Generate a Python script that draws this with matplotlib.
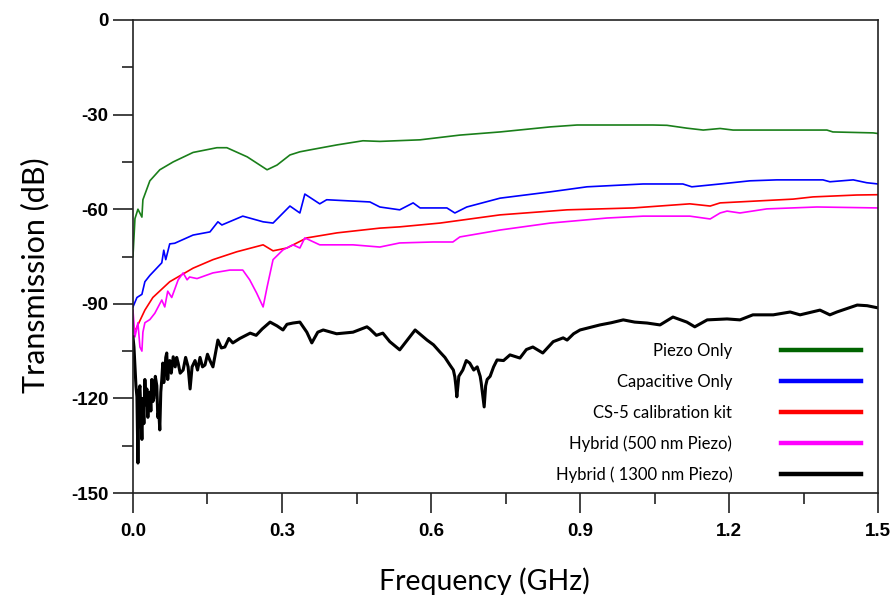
import matplotlib
matplotlib.use('Agg')
import matplotlib.pyplot as plt
from matplotlib.lines import Line2D
from matplotlib.ticker import MultipleLocator

plt.rcParams['axes.unicode_minus'] = False

# Piezo Only
piezo_f = [0.000, 0.004, 0.010, 0.018, 0.020, 0.034, 0.054, 0.081, 0.121, 0.169, 0.189,
           0.230, 0.270, 0.290, 0.316, 0.336, 0.356, 0.411, 0.463, 0.497, 0.578, 0.658,
           0.739, 0.840, 0.894, 1.047, 1.075, 1.115, 1.148, 1.182, 1.208, 1.397, 1.409,
           1.490, 1.500]
piezo_db = [-75, -63, -60, -62.5, -57, -51, -47.5, -45, -42, -40.5, -40.5,
            -43.4, -47.5, -46, -42.8, -41.8, -41.2, -39.6, -38.3, -38.5, -38, -36.5,
            -35.5, -33.9, -33.3, -33.3, -33.4, -34.3, -34.9, -34.4, -34.9, -34.9, -35.5,
            -35.8, -36]

# Capacitive Only
cap_f = [0.000, 0.008, 0.018, 0.024, 0.034, 0.058, 0.062, 0.066, 0.074, 0.084, 0.121,
         0.155, 0.171, 0.179, 0.221, 0.262, 0.282, 0.316, 0.336, 0.346, 0.376, 0.390,
         0.477, 0.497, 0.537, 0.564, 0.578, 0.632, 0.648, 0.672, 0.739, 0.840, 0.914,
         1.027, 1.107, 1.125, 1.182, 1.242, 1.296, 1.389, 1.403, 1.450, 1.477, 1.500]
cap_db = [-91, -88, -87, -83, -81, -77, -73, -76, -71, -70.8, -68.2,
          -67.2, -64, -65, -62.2, -64, -64.4, -59, -61.2, -55.2, -58.3, -57,
          -57.7, -59.3, -60.2, -58, -59.6, -59.6, -61.2, -59.3, -56.5, -54.5, -52.9,
          -52, -52, -52.9, -52, -51, -50.7, -50.7, -51.3, -50.7, -51.6, -52]

# CS-5 calibration kit
cal_f = [0.006, 0.012, 0.024, 0.040, 0.074, 0.121, 0.161, 0.209, 0.262, 0.282, 0.310,
         0.350, 0.411, 0.497, 0.537, 0.618, 0.739, 0.874, 1.007, 1.121, 1.162, 1.182,
         1.329, 1.369, 1.457, 1.500]
cal_db = [-98, -96, -92, -88, -83, -78.7, -76, -73.5, -71.3, -73.2, -72.3,
          -69.1, -67.5, -66, -65.6, -64.4, -61.8, -60.2, -59.6, -58.3, -59, -58,
          -56.8, -56.1, -55.5, -55.4]

# Hybrid (500 nm Piezo)
h500_f = [0.000, 0.004, 0.010, 0.014, 0.018, 0.020, 0.024, 0.034, 0.044, 0.058, 0.064,
          0.070, 0.078, 0.091, 0.101, 0.109, 0.114, 0.129, 0.161, 0.195, 0.221, 0.235,
          0.249, 0.262, 0.270, 0.282, 0.302, 0.322, 0.336, 0.346, 0.376, 0.443, 0.497,
          0.537, 0.604, 0.644, 0.658, 0.739, 0.840, 0.954, 1.027, 1.121, 1.162, 1.182,
          1.196, 1.222, 1.276, 1.377, 1.500]
h500_db = [-92, -100.5, -96, -103.7, -105, -99, -96, -95, -93, -88.8, -91,
           -86, -88, -82.4, -80.2, -82.4, -81.5, -82, -80.2, -79.3, -79.3, -82.4,
           -86.6, -91, -84.7, -76, -72.9, -71.3, -72.3, -69.1, -71.3, -71.3, -72,
           -70.7, -70.4, -70.4, -68.8, -66.6, -64.4, -62.8, -62.2, -62.2, -63.1, -61.2,
           -60.6, -61.2, -59.9, -59.3, -59.6]

# Hybrid ( 1300 nm Piezo)
h1300_f = [0.000, 0.002, 0.004, 0.006, 0.008, 0.010, 0.012, 0.014, 0.016, 0.018, 0.020,
           0.022, 0.024, 0.026, 0.028, 0.030, 0.032, 0.034, 0.036, 0.038, 0.040, 0.042,
           0.045, 0.048, 0.050, 0.052, 0.054, 0.056, 0.058, 0.060, 0.062, 0.064, 0.066,
           0.068, 0.070, 0.072, 0.074, 0.077, 0.081, 0.085, 0.088, 0.091, 0.095, 0.101,
           0.106, 0.111, 0.115, 0.119, 0.125, 0.130, 0.135, 0.140, 0.145, 0.150, 0.155,
           0.161, 0.167, 0.171, 0.178, 0.185, 0.193, 0.201, 0.215, 0.236, 0.248, 0.260,
           0.276, 0.290, 0.302, 0.310, 0.322, 0.336, 0.350, 0.360, 0.372, 0.383, 0.410,
           0.443, 0.471, 0.477, 0.490, 0.503, 0.517, 0.537, 0.568, 0.592, 0.605, 0.618,
           0.628, 0.638, 0.645, 0.648, 0.650, 0.652, 0.656, 0.664, 0.671, 0.678, 0.686,
           0.693, 0.699, 0.701, 0.704, 0.707, 0.710, 0.713, 0.719, 0.726, 0.733, 0.746,
           0.759, 0.779, 0.792, 0.805, 0.825, 0.846, 0.866, 0.874, 0.887, 0.900, 0.920,
           0.940, 0.963, 0.987, 1.010, 1.035, 1.061, 1.087, 1.115, 1.131, 1.156, 1.196,
           1.222, 1.248, 1.289, 1.323, 1.343, 1.383, 1.403, 1.417, 1.458, 1.478, 1.500]
h1300_db = [-100.5, -103.7, -110, -116, -119.5, -140.5, -118, -116, -125, -133, -120,
            -128, -114, -122, -117, -126, -119, -118, -124, -114, -121, -120,
            -113, -116, -126, -124, -130, -118, -114, -108.8, -115, -112, -107,
            -105.6, -114, -109, -108, -112, -106.8, -110, -107, -108.8, -112, -111,
            -107, -110, -117, -110, -108, -111, -107, -110, -109.4, -106, -108,
            -110, -105, -101.5, -104, -103.7, -101, -102.4, -101, -99.3, -100, -98,
            -95.8, -97, -98.3, -96.5, -96.1, -95.8, -99, -102.4, -99, -98.3, -99.5,
            -99, -97.3, -98, -100, -99.3, -102, -104.6, -98.3, -101.5, -103, -105.3,
            -107, -109.4, -111, -113.2, -116, -119.5, -113, -111, -108, -108.8, -111,
            -110, -113, -115, -119, -122.7, -116, -114, -113, -110, -107.8, -108,
            -106.2, -107.2, -104.5, -103.7, -105.6, -102, -100.8, -101.5, -99.5, -98.3, -97.5,
            -96.7, -96, -95.1, -95.8, -96.1, -96.7, -94.2, -95.8, -97.3, -95.1, -94.8,
            -95.1, -93.5, -93.5, -92.6, -93.5, -92, -93.5, -92.6, -90.4, -90.6, -91.3]

labels = ['Piezo Only', 'Capacitive Only', 'CS-5 calibration kit',
          'Hybrid (500 nm Piezo)', 'Hybrid ( 1300 nm Piezo)']
colors = ['#1a7f1a', '#0000ff', '#ff0000', '#ff00ff', '#000000']
legend_colors = ['#006400', '#0000ff', '#ff0000', '#ff00ff', '#000000']

fig = plt.figure(figsize=(8.96, 5.97), dpi=100)
ax = fig.add_axes([0.1484, 0.1742, 0.8316, 0.7923])

ax.plot(piezo_f, piezo_db, color=colors[0], lw=1.2)
ax.plot(cap_f, cap_db, color=colors[1], lw=1.2)
ax.plot(cal_f, cal_db, color=colors[2], lw=1.2)
ax.plot(h500_f, h500_db, color=colors[3], lw=1.2)
ax.plot(h1300_f, h1300_db, color=colors[4], lw=2.2)

ax.set_xlim(0, 1.5)
ax.set_ylim(-150, 0)
ax.xaxis.set_major_locator(MultipleLocator(0.3))
ax.xaxis.set_minor_locator(MultipleLocator(0.15))
ax.yaxis.set_major_locator(MultipleLocator(30))
ax.yaxis.set_minor_locator(MultipleLocator(15))
ax.set_xticklabels([f'{v:.1f}' for v in ax.get_xticks()])

for s in ax.spines.values():
    s.set_linewidth(1.2)
    s.set_color('#222222')
ax.tick_params(which='major', direction='out', length=14.5, width=1.2, color='#222222')
ax.tick_params(which='minor', direction='out', length=8, width=1.2, color='#222222')
ax.tick_params(axis='x', which='major', pad=7)
ax.tick_params(axis='y', which='major', pad=3)
for t in ax.get_xticklabels() + ax.get_yticklabels():
    t.set_fontfamily('Liberation Sans')
    t.set_fontweight('bold')
    t.set_fontsize(13.5)

ax.set_xlabel('Frequency (GHz)', fontfamily='Lato', fontsize=20.5, labelpad=20)
ax.set_ylabel('Transmission (dB)', fontfamily='Lato', fontsize=22, labelpad=15.5)
ax.xaxis.label.set_x(0.471)
ax.yaxis.label.set_y(0.46)

handles = [Line2D([], [], color=c, lw=3.2) for c in legend_colors]
ax.legend(handles, labels, loc='lower right', bbox_to_anchor=(0.99, 0.0),
          markerfirst=False, frameon=False,
          prop={'family': 'Lato', 'size': 12}, handlelength=4.8, handletextpad=2.9,
          labelspacing=0.88, borderaxespad=0.2)

fig.savefig('out.png', dpi=100)
